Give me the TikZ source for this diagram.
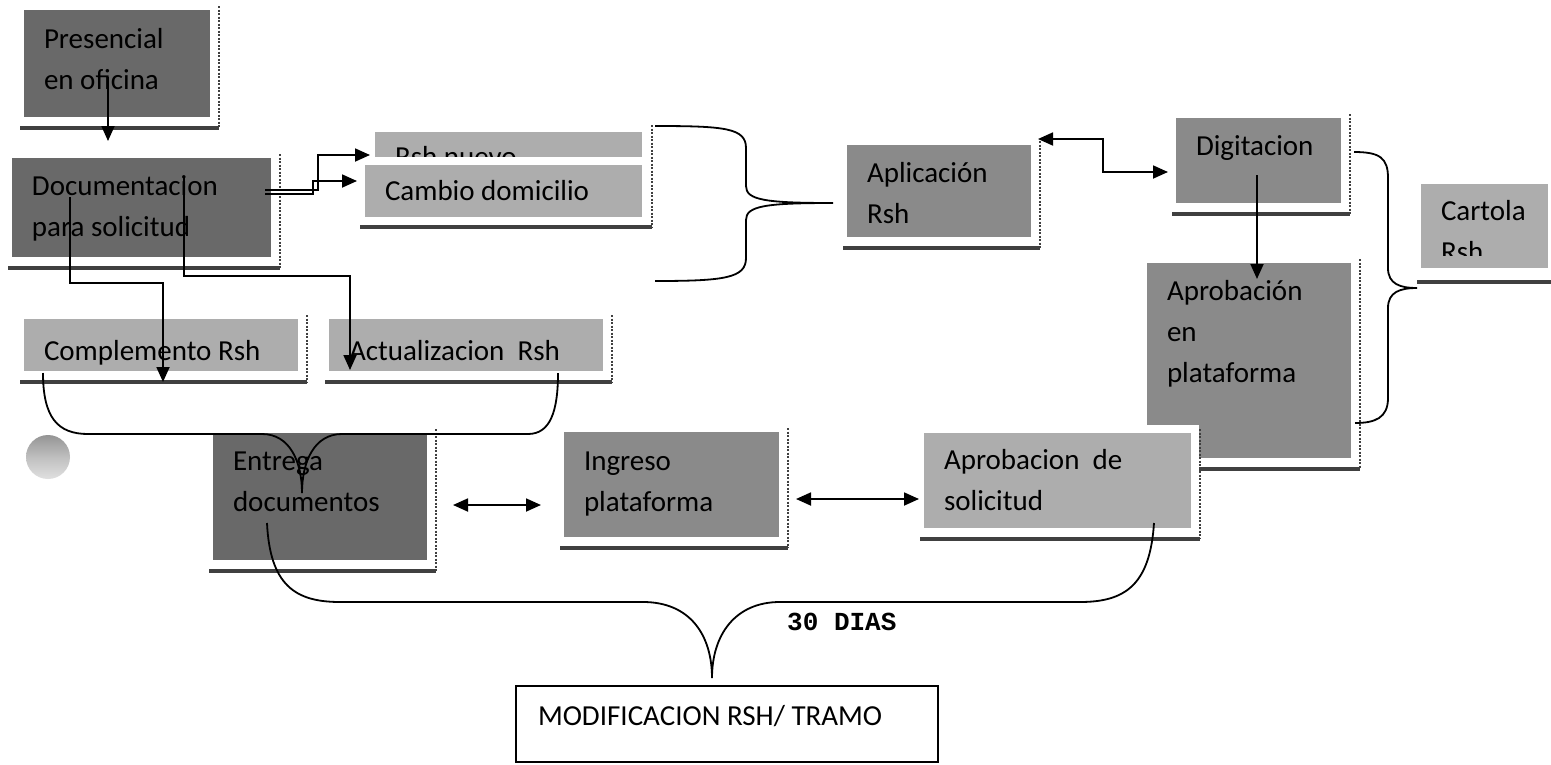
\documentclass[tikz,border=0pt]{standalone}
\usepackage{fontspec}
\setmainfont{Carlito}
\newfontfamily\diasfont{Liberation Mono}
\usetikzlibrary{arrows.meta,calc}
\definecolor{boxdark}{gray}{0.41}
\definecolor{boxmid}{gray}{0.54}
\definecolor{boxlight}{gray}{0.68}
\newcommand\bx[4]{\parbox[c][#2][t]{#1}{\fontsize{29}{41}\selectfont\raggedright\leftskip=20pt\relax\vspace*{\dimexpr#3-28.7pt\relax}\strut#4\par}}
\newcommand\shd[1]{%
  \draw[shline] ($(#1.south west)+(-4,11)$) -- ($(#1.south east)+(9,11)$);
  \draw[shdash] ($(#1.north east)+(9,-4)$) -- ($(#1.south east)+(9,11)$);}
\tikzset{
  box/.style={rectangle, inner sep=0pt, outer sep=0pt, anchor=north west,
    preaction={draw=white, line width=16pt}},
  dk/.style={box, fill=boxdark},
  md/.style={box, fill=boxmid},
  lt/.style={box, fill=boxlight},
  shline/.style={draw=black!75, line width=3.5pt},
  shdash/.style={draw=black!75, line width=1.5pt, dash pattern=on 2pt off 1.5pt},
  arr/.style={draw, line width=1.8pt, -{Triangle[length=15pt,width=13pt]}},
  arrtwo/.style={draw, line width=1.8pt, {Triangle[length=15pt,width=13pt]}-{Triangle[length=15pt,width=13pt]}},
  brc/.style={draw, line width=1.8pt},
}
\begin{document}
\begin{tikzpicture}[x=1pt,y=-1pt]
\useasboundingbox (0,0) rectangle (1551,764);
\clip (0,0) rectangle (1551,764);
\fill[white] (0,0) rectangle (1551,764);

% boxes
\node[dk] (pres) at (24,10) {\bx{186pt}{107pt}{38pt}{Presencial\\en oficina}};
\shd{pres}
\node[dk] (doc) at (12,158) {\bx{259pt}{99pt}{37pt}{Documentacion\\para solicitud}};
\shd{doc}
\node[lt] (rshn) at (375,132) {\bx{267pt}{45pt}{34pt}{Rsh nuevo}};
\node[lt] (camb) at (365,165) {\bx{277pt}{52pt}{35pt}{Cambio domicilio}};
\draw[shdash] ($(rshn.north east)+(10,-7)$) -- ($(camb.south east)+(10,10)$);
\draw[shline] ($(camb.south west)+(-5,10)$) -- ($(camb.south east)+(10,10)$);
\node[lt] (comp) at (24,319) {\bx{274pt}{52pt}{41pt}{Complemento Rsh}};
\shd{comp}
\node[lt] (actu) at (329,319) {\bx{274pt}{52pt}{41pt}{Actualizacion\ \ Rsh}};
\shd{actu}
\node[md] (apli) at (847,145) {\bx{184pt}{92pt}{37pt}{Aplicación\\Rsh}};
\shd{apli}
\node[md] (digi) at (1176,118) {\bx{165pt}{85pt}{37pt}{Digitacion}};
\shd{digi}
\node[md] (aprp) at (1147,263) {\bx{204pt}{195pt}{37pt}{Aprobación\\en\\plataforma}};
\shd{aprp}
\node[lt] (aprs) at (924,433) {\bx{267pt}{95pt}{36pt}{Aprobacion\ \ de\\solicitud}};
\shd{aprs}
\node[lt] (cart) at (1421,184) {\bx{127pt}{84pt}{36pt}{Cartola\\Rsh}};
\fill[boxlight] ($(cart.south west)+(0,-12)$) rectangle (cart.south east);
\draw[shline] ($(cart.south west)+(-4,14)$) -- ($(cart.south east)+(12,14)$);
\node[dk] (entr) at (213,433) {\bx{214pt}{127pt}{37pt}{Entrega\\documentos}};
\shd{entr}
\node[md] (ingr) at (564,432) {\bx{215pt}{105pt}{38pt}{Ingreso\\plataforma}};
\shd{ingr}
\node[rectangle, draw=black, line width=1.5pt, fill=white, inner sep=0pt, outer sep=0pt, anchor=north west] (modi) at (516,686)
  {\parbox[c][76pt][t]{422pt}{\fontsize{29}{41}\selectfont\leftskip=22pt\relax\vspace*{\dimexpr39pt-28.7pt\relax}\strut MODIFICACION RSH/ TRAMO\par}};
\node[circle, minimum size=44pt, inner sep=0pt, top color=black!42, bottom color=black!12, middle color=black!25] (dot) at (48,457) {};
\node[anchor=base west, inner sep=0pt, font=\diasfont\bfseries\fontsize{26}{30}\selectfont] (dias) at (787,630) {30 DIAS};

% arrows
\draw[arr] ($(pres.north west)+(84,67)$) -- ($(doc.north west)+(96,-17)$);
\draw[arr] ($(doc.north west)+(253,32)$) -| ($(rshn.north west)+(-57,23)$) -- ($(rshn.north west)+(-5,23)$);
\draw[arr] ($(doc.north west)+(253,36)$) -| ($(camb.north west)+(-52,16)$) -- ($(camb.north west)+(-8,16)$);
\draw[arr] ($(doc.north west)+(58,39)$) |- ($(comp.north west)+(139,-36)$) -- ($(comp.north west)+(139,63)$);
\draw[arr] ($(doc.north west)+(172,19)$) |- ($(actu.north west)+(21,-43)$) -- ($(actu.north west)+(21,51)$);
\draw[arrtwo] ($(apli.north east)+(7,-6)$) -| ($(digi.north west)+(-73,54)$) -- ($(digi.north west)+(-8,54)$);
\draw[arr] ($(digi.north west)+(81,57)$) -- ($(aprp.north west)+(110,16)$);
\draw[arrtwo] ($(entr.north east)+(26,72)$) -- ($(ingr.north west)+(-23,73)$);
\draw[arrtwo] ($(ingr.north east)+(17,67)$) -- ($(aprs.north west)+(-5,66)$);

% braces
\coordinate (b1s) at ($(camb.north east)+(13,-39)$);
\coordinate (b1e) at ($(camb.south east)+(13,64)$);
\coordinate (b1t) at ($(apli.north west)+(-14,58)$);
\draw[brc] (b1s) .. controls (725,126) and (746,128) .. (746,148) -- (746,186)
  .. controls (746,200) and (765,203) .. (b1t)
  .. controls (765,203) and (746,206) .. (746,220) -- (746,258)
  .. controls (746,278) and (725,281) .. (b1e);

\coordinate (b2s) at ($(digi.north east)+(13,34)$);
\coordinate (b2t) at ($(cart.north west)+(-4,104)$);
\coordinate (b2e) at ($(aprp.north east)+(4,160)$);
\draw[brc] (b2s) .. controls (1380,152) and (1388,158) .. (1388,178) -- (1388,268)
  .. controls (1388,284) and (1400,288) .. (b2t)
  .. controls (1400,288) and (1388,292) .. (1388,308) -- (1388,398)
  .. controls (1388,418) and (1375,423) .. (b2e);

\coordinate (b3l) at ($(comp.north west)+(19,54)$);
\coordinate (b3r) at ($(actu.north west)+(229,54)$);
\coordinate (b3t) at ($(entr.north west)+(89,60)$);
\draw[brc] (b3l) .. controls (43,418) and (58,434) .. (88,434) -- (262,434)
  .. controls (290,434) and (302,462) .. (b3t)
  .. controls (302,462) and (314,434) .. (342,434) -- (528,434)
  .. controls (550,434) and (558,412) .. (b3r);

\coordinate (b4l) at ($(entr.north west)+(54,90)$);
\coordinate (b4r) at ($(aprs.north west)+(230,90)$);
\coordinate (b4t) at ($(modi.north west)+(196,-8)$);
\draw[brc] (b4l) .. controls (270,585) and (295,602) .. (340,602) -- (643,602)
  .. controls (690,602) and (712,635) .. (b4t)
  .. controls (712,635) and (735,602) .. (780,602) -- (1080,602)
  .. controls (1125,602) and (1150,585) .. (b4r);
\end{tikzpicture}
\end{document}
